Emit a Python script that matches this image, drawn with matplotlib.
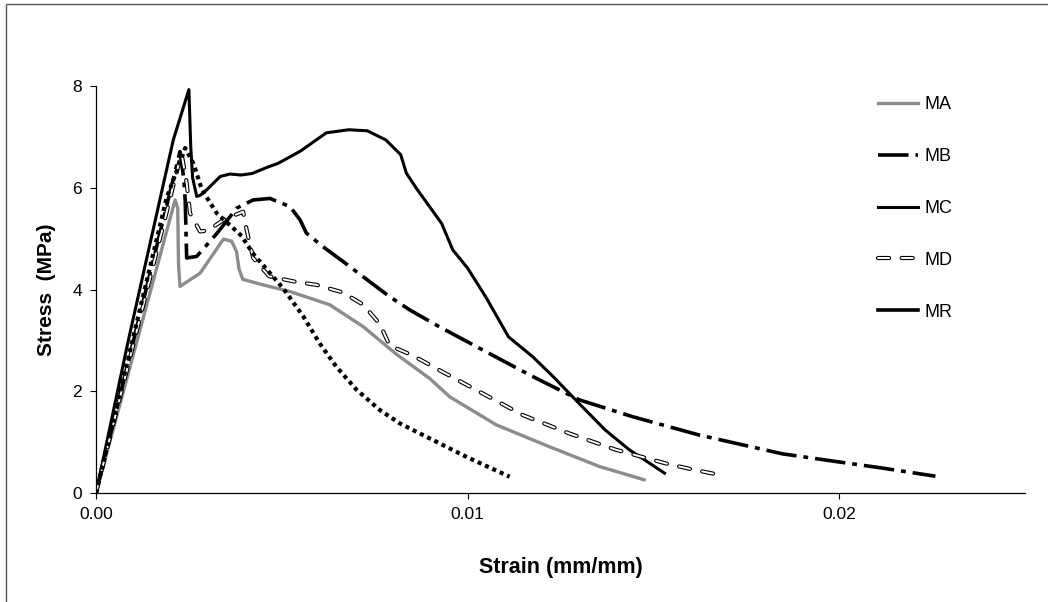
import matplotlib.pyplot as plt
from matplotlib.lines import Line2D
from matplotlib.patches import Rectangle

plt.rcParams['font.family'] = ['Liberation Sans', 'DejaVu Sans']
plt.rcParams['lines.scale_dashes'] = False

# --- Data ---
ma_strain = [0, 0.00205, 0.00213, 0.00220, 0.00222, 0.00226, 0.0028, 0.00343, 0.00365, 0.00378,
             0.00385, 0.00395, 0.0045, 0.00522, 0.00629, 0.00719, 0.00808, 0.00898, 0.00952,
             0.01077, 0.0122, 0.01355, 0.01475]
ma_stress = [0, 5.55, 5.76, 5.6, 4.5, 4.06, 4.32, 4.99, 4.95, 4.75,
             4.4, 4.2, 4.09, 3.96, 3.70, 3.27, 2.73, 2.25, 1.89,
             1.34, 0.91, 0.52, 0.26]

mb_strain = [0, 0.00226, 0.00236, 0.0024, 0.00244, 0.00271, 0.00325, 0.00379, 0.00423, 0.00468,
             0.00522, 0.00549, 0.00566, 0.00611, 0.00665, 0.00719, 0.0079, 0.00844, 0.00916,
             0.01041, 0.01175, 0.01301, 0.01444, 0.01623, 0.01847, 0.0199, 0.02116, 0.02259]
mb_stress = [0, 6.71, 6.2, 5.76, 4.62, 4.65, 5.1, 5.6, 5.76, 5.79,
             5.63, 5.37, 5.11, 4.84, 4.55, 4.25, 3.86, 3.6, 3.30,
             2.81, 2.29, 1.83, 1.50, 1.14, 0.77, 0.62, 0.49, 0.33]

mc_strain = [0, 0.00087, 0.00208, 0.0025, 0.00255, 0.0026, 0.00271, 0.0028, 0.00298, 0.00334,
             0.0036, 0.0039, 0.0042, 0.0046, 0.0049, 0.0052, 0.0055, 0.0062, 0.0068, 0.0073,
             0.0078, 0.0082, 0.00835, 0.00862, 0.0093, 0.0096, 0.0100, 0.0105, 0.0111,
             0.01175, 0.0123, 0.0130, 0.0137, 0.01435, 0.0153]
mc_stress = [0, 3.0, 6.94, 7.93, 6.8, 6.2, 5.83, 5.85, 5.96, 6.22,
             6.27, 6.25, 6.28, 6.4, 6.48, 6.6, 6.72, 7.08, 7.14, 7.12,
             6.94, 6.65, 6.29, 5.99, 5.3, 4.78, 4.42, 3.84, 3.07,
             2.68, 2.29, 1.76, 1.24, 0.85, 0.39]

md_strain = [0, 0.0023, 0.00244, 0.00253, 0.0028, 0.00302, 0.00343, 0.00396, 0.00406, 0.00423,
             0.00466, 0.00531, 0.00594, 0.00665, 0.00719, 0.00764, 0.0079, 0.00853, 0.00915,
             0.01032, 0.01149, 0.01274, 0.01399, 0.01534, 0.01601, 0.01668]
md_stress = [0, 6.68, 6.09, 5.5, 5.14, 5.16, 5.37, 5.53, 5.15, 4.62,
             4.26, 4.16, 4.09, 3.94, 3.70, 3.32, 2.90, 2.70, 2.45,
             1.99, 1.53, 1.17, 0.85, 0.58, 0.47, 0.37]

mr_strain = [0, 0.0019, 0.0024, 0.00262, 0.00285, 0.00325, 0.0037, 0.00392, 0.00423, 0.00459,
             0.00504, 0.00558, 0.00602, 0.00647, 0.00701, 0.00764, 0.00817, 0.00907, 0.00997,
             0.01113]
mr_stress = [0, 5.8, 6.78, 6.48, 5.96, 5.5, 5.2, 5.05, 4.7, 4.4,
             4.02, 3.47, 2.94, 2.48, 2.03, 1.63, 1.37, 1.04, 0.71,
             0.32]

x_ticks = [0, 0.01, 0.02]
x_ticklabels = ['0.00', '0.01', '0.02']
y_ticks = [0, 2, 4, 6, 8]

# --- Figure ---
fig = plt.figure(figsize=(10.48, 6.02), dpi=100)
ax = fig.add_axes([96 / 1048, 1 - 493 / 602, (1025 - 96) / 1048, (493 - 86) / 602])

# chart-area frame
fig.patches.append(Rectangle((6 / 1048, -0.1), 1.2, 1.1 - 4 / 602, transform=fig.transFigure,
                             fill=False, edgecolor='#555555', linewidth=1.0))

l_ma, = ax.plot(ma_strain, ma_stress, color='#8c8c8c', lw=2.4, label='MA')
l_mb, = ax.plot(mb_strain, mb_stress, color='black', lw=2.6, dashes=(22, 5, 3.5, 5),
                dash_capstyle='butt', label='MB')
l_mc, = ax.plot(mc_strain, mc_stress, color='black', lw=2.2, label='MC')
l_md_out, = ax.plot(md_strain, md_stress, color='black', lw=3.0, dashes=(8, 9),
                    dash_capstyle='round')
l_md_in, = ax.plot(md_strain, md_stress, color='white', lw=1.4, dashes=(8, 9),
                   dash_capstyle='round')
l_mr, = ax.plot(mr_strain, mr_stress, color='black', lw=3.0, dashes=(2.9, 2.9),
                dash_capstyle='butt', label='MR')

ax.set_xlim(0, 0.025)
ax.set_ylim(0, 8)
ax.set_xticks(x_ticks)
ax.set_xticklabels(x_ticklabels)
ax.set_yticks(y_ticks)
ax.tick_params(direction='out', length=4, width=0.8, labelsize=12.5, pad=6)
for s in ['top', 'right']:
    ax.spines[s].set_visible(False)
for s in ['left', 'bottom']:
    ax.spines[s].set_linewidth(0.9)

ax.set_xlabel('Strain (mm/mm)', fontsize=15.5, fontweight='bold', labelpad=25)
ax.set_ylabel('Stress  (MPa)', fontsize=15, fontweight='bold', labelpad=12)

# legend handle for MR is drawn solid, as in the source chart
mr_handle = Line2D([], [], color='black', lw=2.6)
ax.legend([l_ma, l_mb, l_mc, (l_md_out, l_md_in), mr_handle], ['MA', 'MB', 'MC', 'MD', 'MR'],
          loc='upper left', bbox_to_anchor=(862 / 1048, 1 - 80 / 602), bbox_transform=fig.transFigure,
          frameon=False, fontsize=13, handlelength=2.2, handletextpad=0.35, labelspacing=1.93)

plt.savefig('out.png', dpi=100)
